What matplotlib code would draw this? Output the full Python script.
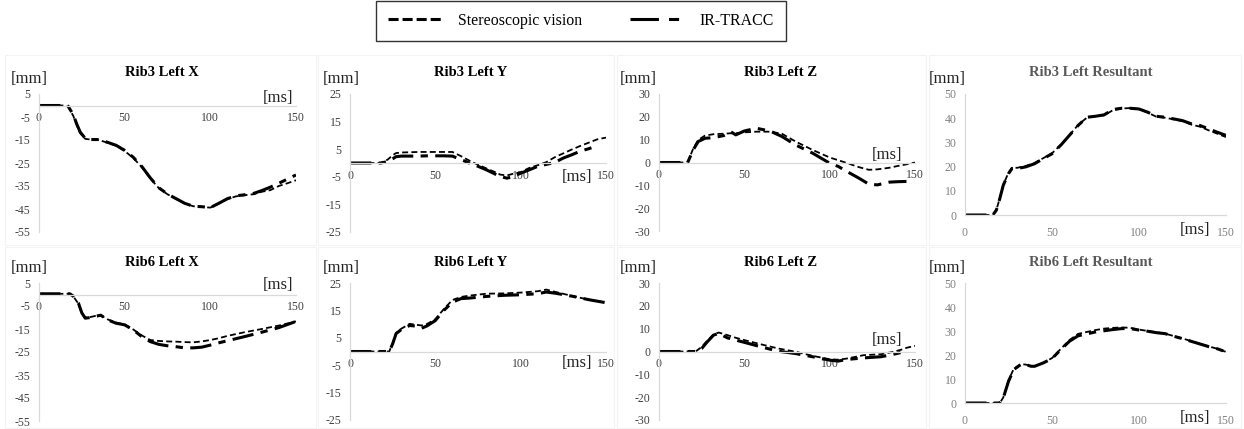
import numpy as np
import matplotlib
matplotlib.use("Agg")
import matplotlib.pyplot as plt
from matplotlib.lines import Line2D
from matplotlib.patches import Rectangle

plt.rcParams['font.family'] = ['Liberation Serif', 'DejaVu Serif']
plt.rcParams['axes.unicode_minus'] = False

W, H = 1244, 429
nan = np.nan

# ---- data (time in ms, displacement in mm) ----
r3x_t = [0, 5, 10, 15, 17, 20, 22, 24, 27, 30, 35, 40, 45, 50, 55, 60, 65, 70, 75, 80,
         85, 90, 95, 100, 105, 110, 115, 120, 125, 130, 135, 140, 145, 150]
r3x_ir = [0, 0, 0, 0, -0.3, -4, -8, -11.5, -14.3, -14.8, -14.8, -16, -17.3, -19.5, -22.5,
          -26.5, -31.5, -35.8, -38.5, -40.5, -42.5, -43.8, -44, -44.4, -42.5, -40.5, -39.3,
          -38.8, -38.3, -37, -35.5, -33.8, -32, -30.2]
r3x_st = [0, 0, 0, 0, -0.5, -4.5, -8.5, -12, -14.5, -14.8, -15, -16.2, -17.5, -19.8, -22.8,
          -26.8, -31.8, -36, -38.6, -40.6, -42.6, -43.8, -44.1, -44.4, -42.6, -40.7, -39.5,
          -39, -38.6, -37.5, -36.8, -35, -33.8, -32.5]

r3y_t = [0, 5, 10, 15, 18, 22, 25, 27, 30, 35, 40, 45, 50, 55, 60, 65, 68, 72, 75, 80, 85,
         88, 92, 95, 100, 105, 110, 115, 120, 125, 130, 135, 140, 145, 150]
r3y_ir = [0, 0, 0, 0, 0, 0.5, 1.5, 2.3, 2.5, 2.5, 2.5, 2.6, 2.6, 2.6, 2.5, 1.2, 0.5, -0.6,
          -1.2, -2.5, -4, -4.9, -5.5, -5, -3.7, -2.5, -1.2, -0.5, 0.2, 1.8, 3, 4.3, 5.2, 6.3, nan]
r3y_st = [0, 0, 0, 0, 0, 1.2, 2.8, 3.6, 3.8, 3.9, 4, 4, 4, 4, 4, 2.5, 1.5, 0.2, -0.6, -2,
          -3.3, -4.2, -4.5, -4, -3.3, -1.8, -0.8, 0.3, 2.1, 3.5, 4.9, 6.2, 7.4, 8.6, 9.2]

r3z_t = [0, 5, 10, 15, 17, 20, 23, 27, 32, 38, 42, 45, 50, 57, 65, 72, 80, 90, 100, 105,
         110, 117, 123, 128, 135, 140, 145, 150]
r3z_ir = [0, 0, 0, 0, 0.3, 5.5, 9.2, 10.6, 10.9, 11.8, 13.5, 12.1, 13.8, 15, 13.8, 11.4,
          7.7, 4.1, -0.3, -1.7, -3.9, -6.8, -9.5, -9.8, -8.6, -8.4, -8.3, nan]
r3z_st = [0, 0, 0, 0, 0.5, 6, 9.9, 11.8, 12.4, 12.6, 12.8, 12.8, 13.2, 13.5, 13.5, 12.6,
          9.2, 5.5, 2.2, 1.0, -0.2, -2.0, -3.2, -3.0, -2.3, -1.5, -0.8, 0]

r3r_t = [0, 5, 10, 16, 18, 20, 22, 25, 27, 30, 35, 40, 45, 50, 55, 60, 65, 70, 75, 80, 85,
         90, 95, 100, 105, 110, 115, 120, 125, 130, 135, 140, 145, 150]
r3r_ir = [0, 0, 0, 0, 2, 6.8, 12.3, 17.1, 19.2, 19.2, 19.9, 21.2, 23.3, 25.3, 28.8, 32.9,
          37, 40.4, 40.8, 41.4, 43.6, 44.1, 44.1, 43.8, 42.5, 40.8, 40.4, 39.7, 39, 37.7,
          37, 35.6, 34.2, 32.9]
r3r_st = [0, 0, 0, 0, 2, 7, 12.5, 17.5, 19.5, 19.5, 20.3, 21.5, 23.5, 25.5, 29, 33, 37.2,
          40.2, 40.8, 41.2, 43.3, 44, 44.2, 43.8, 42.3, 40.6, 40.2, 39.5, 38.8, 37.4, 36.5,
          35, 33.6, 32.2]

r6x_t = [0, 5, 10, 15, 18, 20, 23, 25, 27, 30, 33, 36, 40, 45, 50, 55, 60, 65, 70, 75, 80,
         85, 90, 95, 100, 105, 110, 120, 130, 140, 150]
r6x_ir = [0.3, 0.3, 0.3, 0.3, 0.3, -0.7, -3.7, -8, -10.3, -10, -9.5, -9, -11, -12.5, -13.2,
          -15.4, -18.3, -20.5, -21.7, -22.3, -22.7, -23.2, -23.2, -22.9, -22, -21, -20.1,
          -18.3, -16.4, -14.4, -11.7]
r6x_st = [0.3, 0.3, 0.3, 0.3, 0.3, -0.8, -4, -8.3, -10, -9.8, -9.3, -9, -10.8, -12.2, -13,
          -15.2, -17.8, -19.8, -20.2, -20.4, -20.5, -20.7, -20.8, -20.4, -19.8, -19, -18,
          -16.4, -15, -13.5, -11.7]

r6y_t = [0, 5, 10, 15, 20, 23, 25, 27, 30, 35, 38, 42, 45, 50, 55, 60, 65, 70, 80, 90, 100,
         110, 115, 120, 130, 140, 150]
r6y_ir = [0, 0, 0, 0, 0, 0, 2.8, 6.5, 8, 9.5, 9.3, 8.5, 9.3, 11.3, 15, 18, 19.3, 19.5,
          20.1, 20.5, 20.7, 21.1, 21.7, 21.3, 20.2, 18.9, 17.8]
r6y_st = [0, 0, 0, 0, 0, 0, 3, 6.8, 8.3, 10.1, 9.8, 9.5, 10, 11.8, 15.5, 18.8, 19.9, 20.4,
          21.1, 21.2, 21.5, 22, 22.6, 21.8, 20.3, 18.9, 17.8]

r6z_t = [0, 5, 10, 15, 20, 22, 25, 28, 32, 35, 40, 45, 50, 60, 70, 80, 90, 100, 105, 110,
         120, 130, 137, 142, 145, 150]
r6z_ir = [0, 0, 0, 0, 0, 0, 1.3, 4, 7.2, 7.9, 6, 5, 4, 2, 0.1, -0.9, -2.3, -3.8, -4.2,
          -3.5, -2.8, -2.3, -1.3, -0.4, -0.1, nan]
r6z_st = [0, 0, 0, 0, 0, 0.3, 2, 4.5, 7.5, 8.3, 7.2, 6, 5, 3.1, 1.3, -0.1, -1.9, -3.4,
          -3.6, -3.1, -1.6, -1.2, -0.2, 0.8, 1.6, 2.5]

r6r_t = [0, 5, 10, 15, 20, 22, 25, 28, 32, 35, 38, 40, 45, 50, 55, 60, 65, 70, 75, 80, 85,
         90, 95, 100, 105, 110, 115, 120, 125, 130, 135, 140, 145, 150]
r6r_ir = [0, 0, 0, 0, 0, 2.1, 9, 13.9, 16, 16, 15.3, 15.3, 16.7, 18.5, 22.2, 25.7, 28,
          28.8, 29.6, 30.1, 30.6, 31, 31, 30.4, 29.9, 29.3, 28.9, 27.8, 26.8, 25.7, 24.6,
          23.5, 22.6, 21.3]
r6r_st = [0, 0, 0, 0, 0, 2.3, 9.5, 14.2, 16.2, 16, 15.5, 15.3, 16.8, 18.7, 22.5, 26.2,
          28.8, 29.6, 30.4, 31, 31.3, 31.5, 31.3, 30.6, 30, 29.5, 28.9, 27.9, 26.9, 25.8,
          24.7, 23.6, 22.6, 21.3]

titles = ['Rib3 Left X', 'Rib3 Left Y', 'Rib3 Left Z', 'Rib3 Left Resultant',
          'Rib6 Left X', 'Rib6 Left Y', 'Rib6 Left Z', 'Rib6 Left Resultant']
ylims = [(-55, 5), (-25, 25), (-30, 30), (0, 50)]
yticks = [np.arange(-55, 6, 10), np.arange(-25, 26, 10), np.arange(-30, 31, 10),
          np.arange(0, 51, 10)]
xticks = [0, 50, 100, 150]

series = [(r3x_t, r3x_st, r3x_ir), (r3y_t, r3y_st, r3y_ir), (r3z_t, r3z_st, r3z_ir),
          (r3r_t, r3r_st, r3r_ir), (r6x_t, r6x_st, r6x_ir), (r6y_t, r6y_st, r6y_ir),
          (r6z_t, r6z_st, r6z_ir), (r6r_t, r6r_st, r6r_ir)]

# ---- layout (pixels) ----
ax_left = [39, 350, 659, 965]
ax_right = [296, 606, 915, 1226]
ax_top = [94, 283]
ax_bot = [[232, 232, 231, 215], [421, 420, 420, 403]]
title_x = [162, 471, 781, 1091]
title_y = [72, 262]
mm_x = [29, 341, 638, 947]
mm_y = [79, 268]
ms_pos = [(0.93, 0.97), (0.886, 0.40), (0.89, 0.555), (0.88, -0.12),
          (0.93, 0.985), (0.886, 0.416), (0.89, 0.584), (0.88, -0.125)]
panel_x = [(5, 316), (318, 614), (617, 926), (929, 1241)]
panel_y = [(55, 245), (247, 428)]

ST_STYLE = dict(color='black', lw=1.3, linestyle=(0, (3.3, 1.8)))
IR_STYLE = dict(color='black', lw=2.2, linestyle=(0, (7, 2.4, 2.4, 2.4)))

fig = plt.figure(figsize=(W / 100, H / 100), dpi=100)

for r in range(2):
    for c in range(4):
        x0, x1 = panel_x[c]
        y0, y1 = panel_y[r]
        fig.add_artist(Rectangle((x0 / W, 1 - y1 / H), (x1 - x0) / W, (y1 - y0) / H,
                                 transform=fig.transFigure, fill=False,
                                 edgecolor='#f3f3f3', lw=0.8))

for i in range(8):
    r, c = divmod(i, 4)
    left, right = ax_left[c], ax_right[c]
    top, bot = ax_top[r], ax_bot[r][c]
    ax = fig.add_axes([left / W, 1 - bot / H, (right - left) / W, (bot - top) / H])
    ax.patch.set_alpha(0)
    t, st, ir = series[i]
    ax.plot(t, ir, **IR_STYLE)
    ax.plot(t, st, **ST_STYLE)
    ax.set_xlim(0, 150)
    ax.set_ylim(*ylims[c])
    ax.set_xticks(xticks)
    ax.set_yticks(yticks[c])
    resultant = (c == 3)
    tick_col = '#808080' if resultant else '#404040'
    ax.tick_params(length=0, labelsize=8.5, colors=tick_col)
    ax.tick_params(axis='y', pad=6)
    ax.tick_params(axis='x', pad=9 if resultant else 5)
    for s in ['top', 'right']:
        ax.spines[s].set_visible(False)
    for s in ['left', 'bottom']:
        ax.spines[s].set_color('#d9d9d9')
        ax.spines[s].set_linewidth(0.9)
    if not resultant:
        ax.spines['bottom'].set_position(('data', 0))
    fig.text(title_x[c] / W, 1 - title_y[r] / H, titles[i], ha='center', va='center',
             fontsize=10.5, fontweight='bold',
             color='#595959' if resultant else 'black')
    fig.text(mm_x[c] / W, 1 - mm_y[r] / H, '[mm]', ha='center', va='center',
             fontsize=12, color='#222222')
    ax.text(ms_pos[i][0], ms_pos[i][1], '[ms]', transform=ax.transAxes,
            ha='center', va='center', fontsize=12, color='#222222')

handles = [Line2D([], [], color='black', lw=2.2, linestyle=(0, (3.3, 1.3))),
           Line2D([], [], color='black', lw=2.2, linestyle=(0, (9.3, 3.3, 3.3, 3.3)))]
leg = fig.legend(handles, ['Stereoscopic vision', 'IR-TRACC'], loc='center',
                 bbox_to_anchor=(581 / W, 1 - 21 / H), ncol=2, fontsize=11.4,
                 frameon=True, fancybox=False, edgecolor='black', handlelength=3.4,
                 handletextpad=1.0, columnspacing=3.0, borderpad=0.75,
                 borderaxespad=0)
leg.get_frame().set_linewidth(1.0)

fig.savefig('out.png', dpi=100)
